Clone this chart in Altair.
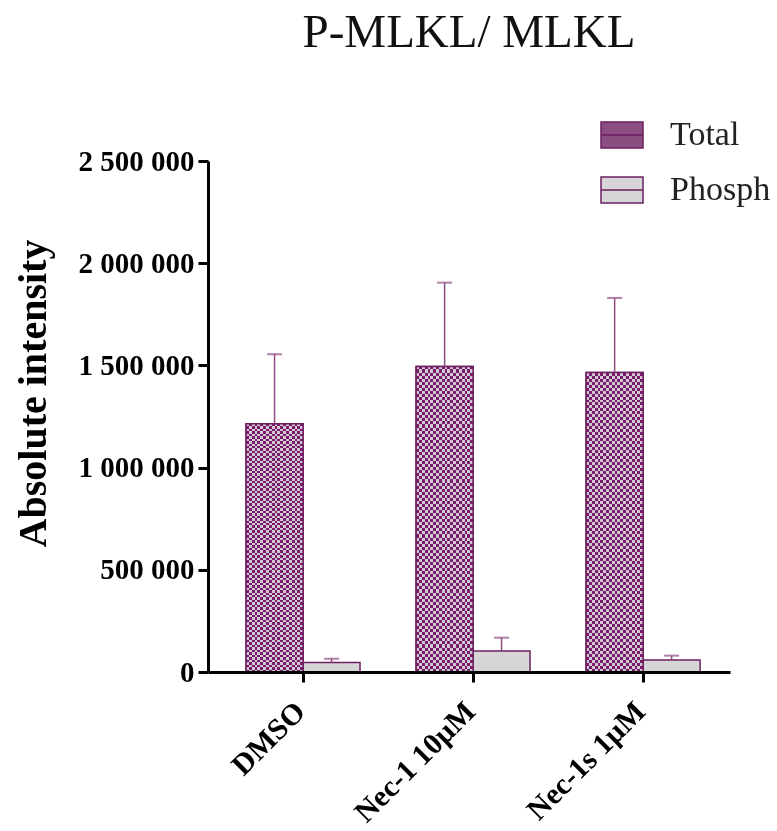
import altair as alt
import pandas as pd

categories = ["DMSO", "Nec-1 10µM", "Nec-1s 1µM"]
series_names = ["Total", "Phosph"]
total_mean = [1215000, 1495000, 1465000]
total_err = [340000, 410000, 365000]
phosph_mean = [47000, 103000, 59000]
phosph_err = [18000, 65000, 21000]
y_ticks = [0, 500000, 1000000, 1500000, 2000000, 2500000]

rows = []
for i, c in enumerate(categories):
    rows.append({"cat": c, "series": "Total", "mean": total_mean[i],
                 "upper": total_mean[i] + total_err[i]})
    rows.append({"cat": c, "series": "Phosph", "mean": phosph_mean[i],
                 "upper": phosph_mean[i] + phosph_err[i]})
df = pd.DataFrame(rows)

PURPLE = "#7A1A6C"
GRAY_CHK = "#D2C8D2"
DIFF = "#58AE66"   # GRAY_CHK - PURPLE per channel
EDGE = "#6E1F62"
ERR = "#8E4C83"
PH_FILL = "#D6D6D6"
SERIF = "Liberation Serif"


def stripes(n, c1, c2, horizontal):
    stops = []
    for k in range(2 * n):
        col = c1 if k % 2 == 0 else c2
        stops.append({"offset": k / (2 * n), "color": col})
        stops.append({"offset": (k + 1) / (2 * n), "color": col})
    return {"gradient": "linear", "stops": stops, "x1": 0, "y1": 0,
            "x2": 1 if horizontal else 0, "y2": 0 if horizontal else 1}


x_enc = alt.X("cat:N", sort=categories,
              scale=alt.Scale(paddingInner=0.33, paddingOuter=0.2, align=0.56),
              axis=alt.Axis(title=None, labelAngle=-45, labelFont=SERIF,
                            labelFontSize=30, labelFontWeight="bold",
                            labelColor="black", tickSize=10, tickWidth=3,
                            tickColor="black", domainWidth=3, domainColor="black",
                            labelPadding=14, labelOffset=-13, zindex=1))
xo_enc = alt.XOffset("series:N", sort=series_names,
                     scale=alt.Scale(domain=series_names, paddingInner=0, paddingOuter=0))
y_enc = alt.Y("mean:Q", scale=alt.Scale(domain=[0, 2500000], nice=False),
              axis=alt.Axis(values=y_ticks, title="Absolute intensity",
                            labelExpr="replace(replace(format(datum.value, ','), ',', ' '), ',', ' ')",
                            labelFont=SERIF, labelFontSize=29, labelFontWeight="bold",
                            labelColor="black", tickSize=10, tickWidth=3,
                            tickColor="black", domainWidth=3, domainColor="black",
                            labelPadding=4, grid=False, titleFont=SERIF,
                            titleFontSize=40, titleFontWeight="bold",
                            titleColor="black", titlePadding=25, titleY=232,
                            zindex=1))

base = alt.Chart(df)
total = base.transform_filter(alt.datum.series == "Total")

bars = base.mark_bar(stroke=EDGE, strokeWidth=1.5).encode(
    x=x_enc, xOffset=xo_enc, y=y_enc,
    fill=alt.Fill("series:N", sort=series_names,
                  scale=alt.Scale(domain=series_names, range=["#8A4E80", PH_FILL]),
                  legend=alt.Legend(orient="none", legendX=392, legendY=-48,
                                    title=None, labelFont=SERIF, labelFontSize=34,
                                    labelColor="#222",
                                    symbolType="M-1,-0.62H1V0.62H-1Z M-1,0H1",
                                    symbolSize=1764, symbolStrokeColor=EDGE,
                                    symbolStrokeWidth=1.5, rowPadding=16,
                                    labelOffset=26, symbolOpacity=1))
)

tex_v = total.mark_bar(fill=stripes(10, DIFF, "#000000", True)).encode(
    x=x_enc, xOffset=xo_enc, y=y_enc)
tex_h = total.mark_bar(fill=stripes(50, DIFF, "#000000", False),
                       blend="difference").encode(x=x_enc, xOffset=xo_enc, y=y_enc)
tex_g = total.mark_bar(fill=GRAY_CHK, blend="difference").encode(
    x=x_enc, xOffset=xo_enc, y=y_enc)
outline = total.mark_bar(fillOpacity=0, stroke=EDGE, strokeWidth=1.5).encode(
    x=x_enc, xOffset=xo_enc, y=y_enc)

err_rule = base.mark_rule(color=ERR, strokeWidth=1.5).encode(
    x=x_enc, xOffset=xo_enc, y=y_enc, y2="upper:Q")
err_cap = base.mark_tick(color=ERR, size=15, thickness=2).encode(
    x=x_enc, xOffset=xo_enc, y=alt.Y("upper:Q"))

chart = alt.layer(bars, tex_v, tex_h, tex_g, outline, err_rule, err_cap).properties(
    width=522, height=511,
    autosize=alt.AutoSizeParams(type="none"),
    padding={"left": 208, "top": 161, "right": 47, "bottom": 159},
    title=alt.TitleParams("P-MLKL/ MLKL", font=SERIF, fontSize=47,
                          fontWeight="normal", color="#111", anchor="middle",
                          frame="group", offset=56),
).configure(background="white").configure_view(stroke=None)

chart.save("out.html", embed_options={"renderer": "svg", "actions": False})
